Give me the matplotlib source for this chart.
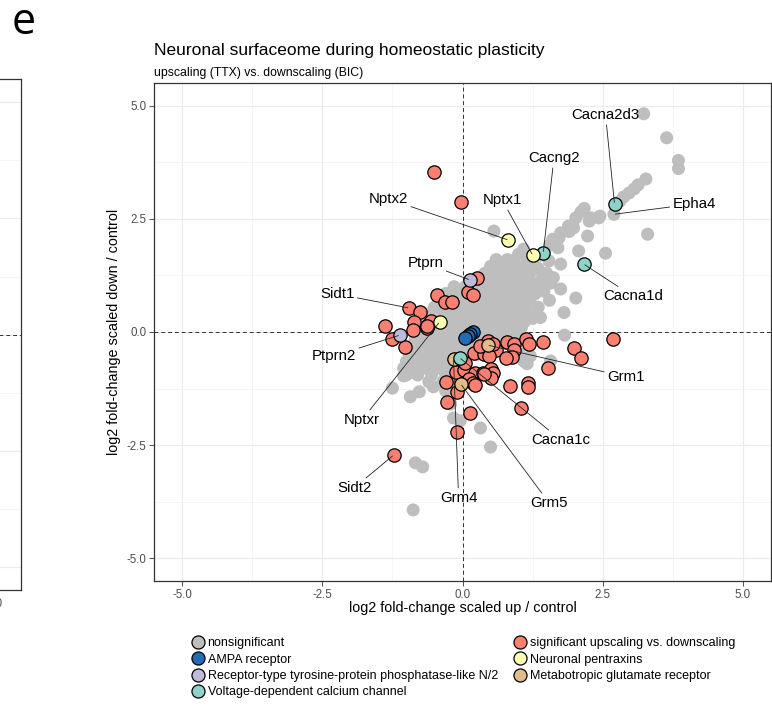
"""
Neuronal surfaceome scatter: upscaling (TTX) vs downscaling (BIC) fold-changes
"""
import matplotlib
matplotlib.use("Agg")
import matplotlib.pyplot as plt
from matplotlib.lines import Line2D
from matplotlib.ticker import MultipleLocator
import numpy as np

plt.rcParams["font.family"] = ["Liberation Sans", "DejaVu Sans"]

# nonsignificant proteins, (log2 up / control, log2 down / control)
gray_pts = [
    (3.23, 4.82), (3.64, 4.29), (3.85, 3.79), (3.85, 3.61), (3.27, 3.38), (3.13, 3.25),
    (3.06, 3.16), (2.97, 3.07), (2.87, 2.98), (2.80, 2.88), (2.70, 2.60), (2.45, 2.56),
    (2.43, 2.52), (2.29, 2.52), (2.17, 2.73), (2.11, 2.65), (2.02, 2.52), (2.26, 2.45),
    (3.30, 2.16), (2.55, 1.74), (1.89, 2.34), (1.98, 2.30), (1.75, 2.19), (1.90, 2.22),
    (2.23, 2.12), (1.61, 2.05), (1.72, 2.08), (1.70, 1.86), (1.55, 1.92), (2.07, 1.79),
    (1.09, 1.83), (1.00, 1.72), (0.91, 1.57), (1.54, 1.57), (1.75, 1.50), (0.68, 1.19),
    (0.56, 2.23), (1.57, 1.08), (1.75, 0.95), (2.02, 0.75), (1.27, 1.06), (1.81, 0.43),
    (1.39, 0.32), (1.82, -0.07), (1.57, -0.64), (1.21, -0.53), (1.09, -0.64), (1.45, 1.75),
    (1.30, 1.62), (1.20, 1.50), (1.35, 1.40), (1.50, 1.30), (1.62, 1.20), (1.40, 1.15),
    (1.45, 0.90), (1.30, 0.85), (1.55, 0.70), (1.35, 0.55), (1.25, 0.30),
    (0.6, 1.6), (0.8, 1.6), (1.15, 1.62),
    (0.5, 1.45), (0.7, 1.45), (0.9, 1.42), (1.1, 1.45),
    (0.4, 1.3), (0.6, 1.3), (0.8, 1.3), (1.0, 1.3), (1.2, 1.3),
    (0.3, 1.15), (0.5, 1.15), (0.7, 1.15), (0.9, 1.15), (1.1, 1.15),
    (-0.15, 1.0), (0.05, 1.0), (0.25, 1.0), (0.45, 1.0), (0.65, 1.0), (0.85, 1.0),
    (1.05, 1.0), (1.25, 0.98),
    (-0.3, 0.85), (-0.1, 0.85), (0.1, 0.85), (0.3, 0.85), (0.5, 0.85), (0.7, 0.85),
    (0.9, 0.85), (1.1, 0.85),
    (-0.4, 0.7), (-0.2, 0.7), (0.0, 0.7), (0.2, 0.7), (0.4, 0.7), (0.6, 0.7),
    (0.8, 0.7), (1.0, 0.7), (1.2, 0.7),
    (-0.5, 0.55), (-0.3, 0.55), (-0.1, 0.55), (0.1, 0.55), (0.3, 0.55), (0.5, 0.55),
    (0.7, 0.55), (0.9, 0.55), (1.1, 0.55),
    (-0.6, 0.4), (-0.4, 0.4), (-0.2, 0.4), (0.0, 0.4), (0.2, 0.4), (0.4, 0.4),
    (0.6, 0.4), (0.8, 0.4), (1.0, 0.4), (1.2, 0.42),
    (-0.7, 0.25), (-0.5, 0.25), (-0.3, 0.25), (-0.1, 0.25), (0.1, 0.25), (0.3, 0.25),
    (0.5, 0.25), (0.7, 0.25), (0.9, 0.25), (1.1, 0.22),
    (-0.75, 0.1), (-0.55, 0.1), (-0.35, 0.1), (-0.15, 0.1), (0.05, 0.1), (0.25, 0.1),
    (0.45, 0.1), (0.65, 0.1), (0.85, 0.1), (1.05, 0.1),
    (-0.8, -0.05), (-0.6, -0.05), (-0.4, -0.05), (-0.2, -0.05), (0.0, -0.05),
    (0.2, -0.05), (0.4, -0.05), (0.6, -0.05), (0.8, -0.05), (1.0, -0.05),
    (-0.85, -0.2), (-0.65, -0.2), (-0.45, -0.2), (-0.25, -0.2), (-0.05, -0.2),
    (0.15, -0.2), (0.35, -0.2), (0.55, -0.2), (0.75, -0.2),
    (-0.9, -0.35), (-0.7, -0.35), (-0.5, -0.35), (-0.3, -0.35), (-0.1, -0.35),
    (0.1, -0.35), (0.3, -0.35), (0.5, -0.35),
    (-0.95, -0.5), (-0.75, -0.5), (-0.55, -0.5), (-0.35, -0.5), (-0.15, -0.5),
    (0.05, -0.5), (0.25, -0.5),
    (-1.0, -0.65), (-0.8, -0.65), (-0.6, -0.65), (-0.4, -0.65), (-0.2, -0.65), (0.0, -0.65),
    (-1.05, -0.8), (-0.85, -0.8), (-0.65, -0.8), (-0.45, -0.8), (-0.25, -0.8), (-0.05, -0.8),
    (-1.0, -0.95), (-0.8, -0.95), (-0.55, -0.95), (-0.3, -0.95), (-0.1, -0.95), (0.1, -0.95),
    (-0.6, -1.1), (-0.35, -1.1), (-0.15, -1.1), (0.05, -1.1),
    (-0.3, -1.3), (-0.1, -1.3),
    (-1.25, -1.24), (-1.05, -0.97), (-0.93, -1.43), (-0.77, -1.32), (-0.52, -1.21),
    (-0.84, -2.89), (-0.71, -2.98), (-0.88, -3.93), (-0.21, -1.59), (-0.16, -1.90),
    (-0.04, -1.96), (0.32, -2.12), (0.50, -2.54), (1.00, -0.45), (1.15, -0.70),
]

# significant upscaling vs. downscaling
sig_pts = [
    (-0.50, 3.53), (-0.02, 2.87), (0.25, 1.19), (0.09, 0.88), (0.18, 0.82), (-0.45, 0.82),
    (-0.32, 0.66), (-0.18, 0.66), (-0.95, 0.53), (-0.75, 0.44), (-0.86, 0.22), (-0.61, 0.15),
    (-0.57, 0.24), (-0.64, 0.09), (-0.89, 0.04), (-1.39, 0.13), (-1.25, -0.15), (-1.02, -0.33),
    (0.46, -0.20), (0.36, -0.33), (0.50, -0.35), (0.59, -0.40), (0.20, -0.46), (0.38, -0.49),
    (0.48, -0.53), (0.80, -0.22), (0.91, -0.26), (0.91, -0.40), (0.89, -0.55), (0.77, -0.57),
    (1.13, -0.15), (1.18, -0.26), (1.43, -0.22), (2.68, -0.15), (1.98, -0.35), (2.11, -0.57),
    (1.52, -0.79), (1.16, -1.13), (1.16, -1.21), (0.84, -1.19), (1.04, -1.68), (0.13, -1.79),
    (-0.09, -2.21), (-0.27, -1.55), (-0.29, -1.10), (-0.11, -0.88), (0.02, -0.84), (0.05, -0.68),
    (0.23, -0.91), (0.36, -0.91), (0.50, -0.82), (0.55, -0.91), (0.50, -1.02), (0.11, -1.04),
    (0.18, -1.13), (0.23, -1.17), (-0.09, -1.32), (-1.23, -2.72), (0.32, -0.31), (0.54, -0.26),
    (0.38, -0.93), (-0.64, 0.13),
]

# highlighted protein groups
ampa_pts = [(0.18, 0.00), (0.13, -0.04), (0.09, -0.09), (0.05, -0.13)]
ptprn_pts = [(0.13, 1.15), (-1.12, -0.07)]
vdcc_pts = [(2.71, 2.83), (1.44, 1.75), (2.16, 1.50), (-0.05, -0.57)]
nptx_pts = [(1.25, 1.70), (0.82, 2.03), (-0.41, 0.22)]
mglur_pts = [(0.45, -0.29), (-0.16, -0.60), (-0.03, -1.15)]

# labelled genes and the point each one marks
gene_names = ["Cacna2d3", "Epha4", "Cacng2", "Nptx1", "Nptx2", "Cacna1d", "Ptprn",
              "Sidt1", "Ptprn2", "Nptxr", "Sidt2", "Grm4", "Grm5", "Cacna1c", "Grm1"]
gene_x = [2.71, 2.70, 1.44, 1.25, 0.82, 2.16, 0.13, -0.95, -1.12, -0.41, -1.23, -0.16,
          -0.03, -0.05, 0.45]
gene_y = [2.83, 2.60, 1.75, 1.70, 2.03, 1.50, 1.15, 0.53, -0.07, 0.22, -2.72, -0.60,
          -1.15, -0.57, -0.29]

# where the repelled labels sit
label_x = [2.55, 4.13, 1.63, 0.71, -1.32, 3.04, -0.66, -2.23, -2.29, -1.79, -1.93, -0.07,
           1.54, 1.75, 2.91]
label_y = [4.79, 2.83, 3.84, 2.91, 2.94, 0.79, 1.52, 0.84, -0.53, -1.94, -3.44, -3.66,
           -3.77, -2.38, -0.99]

groups = [
    ("nonsignificant", "#BEBEBE"),
    ("AMPA receptor", "#1F6DB5"),
    ("Receptor-type tyrosine-protein phosphatase-like N/2", "#BEBADA"),
    ("Voltage-dependent calcium channel", "#8DD3C7"),
    ("significant upscaling vs. downscaling", "#FB8072"),
    ("Neuronal pentraxins", "#FFFFB3"),
    ("Metabotropic glutamate receptor", "#E0BC8A"),
]

TICK_GREY = "#4D4D4D"
FRAME = "#333333"


def style_panel(ax):
    """ggplot-ish bw theme for a panel"""
    ax.set_xlim(-5.5, 5.5)
    ax.set_ylim(-5.5, 5.5)
    for loc in (ax.xaxis, ax.yaxis):
        loc.set_major_locator(MultipleLocator(2.5))
        loc.set_minor_locator(MultipleLocator(1.25))
    ax.grid(which="major", color="#EBEBEB", lw=0.8, zorder=0)
    ax.grid(which="minor", color="#F2F2F2", lw=0.5, zorder=0)
    ax.set_axisbelow(True)
    for s in ax.spines.values():
        s.set_color(FRAME)
        s.set_linewidth(0.9)
    ax.tick_params(which="major", length=3.5, width=0.6, color=FRAME,
                   labelsize=8.3, labelcolor=TICK_GREY, pad=2)
    ax.tick_params(which="minor", length=0)
    fmt = lambda v, p: "%.1f" % v
    ax.xaxis.set_major_formatter(fmt)
    ax.yaxis.set_major_formatter(fmt)


def draw_points(ax, pts, color, edge=True, z=3):
    x, y = np.array(pts).T
    if edge:
        ax.scatter(x, y, s=92, c=color, edgecolors="black", linewidths=0.9, zorder=z)
    else:
        ax.scatter(x, y, s=88, c=color, edgecolors="none", zorder=z)


def main():
    fig = plt.figure(figsize=(7.72, 7.05), dpi=100)

    # neighbouring panel, mostly off the left edge
    left = fig.add_axes([-0.714, 0.163, 0.741, 0.7248])
    style_panel(left)
    left.set_xticks([5.0])
    left.xaxis.set_minor_locator(MultipleLocator(1.25))
    left.set_yticklabels([])
    left.tick_params(axis="y", length=0)
    left.axhline(0, color=FRAME, lw=0.7, ls=(0, (4, 3)), zorder=1)

    ax = fig.add_axes([154 / 772, 1 - 581 / 705, 617 / 772, 498 / 705])
    style_panel(ax)
    ax.axhline(0, color=FRAME, lw=0.7, ls=(0, (4, 3)), zorder=1)
    ax.axvline(0, color=FRAME, lw=0.7, ls=(0, (4, 3)), zorder=1)

    colors = dict(groups)
    draw_points(ax, gray_pts, colors["nonsignificant"], edge=False, z=2)
    draw_points(ax, sig_pts, colors["significant upscaling vs. downscaling"], z=3)
    draw_points(ax, ptprn_pts, colors["Receptor-type tyrosine-protein phosphatase-like N/2"], z=4)
    draw_points(ax, mglur_pts, colors["Metabotropic glutamate receptor"], z=4)
    draw_points(ax, vdcc_pts, colors["Voltage-dependent calcium channel"], z=4)
    draw_points(ax, nptx_pts, colors["Neuronal pentraxins"], z=4)
    draw_points(ax, ampa_pts, colors["AMPA receptor"], z=4)

    for name, gx, gy, tx, ty in zip(gene_names, gene_x, gene_y, label_x, label_y):
        ax.annotate(name, xy=(gx, gy), xytext=(tx, ty), ha="center", va="center",
                    fontsize=10.8, zorder=6,
                    arrowprops=dict(arrowstyle="-", color="#222222", lw=0.6,
                                    shrinkA=0, shrinkB=1))

    ax.set_xlabel("log2 fold-change scaled up / control", fontsize=10.4)
    ax.set_ylabel("log2 fold-change scaled down / control", fontsize=10.4)
    ax.xaxis.set_label_coords(0.5, -0.040)
    ax.yaxis.set_label_coords(-0.053, 0.5)

    fig.text(154 / 772, 1 - 55 / 705, "Neuronal surfaceome during homeostatic plasticity",
             fontsize=12.5, va="baseline", ha="left")
    fig.text(154 / 772, 1 - 76 / 705, "upscaling (TTX) vs. downscaling (BIC)",
             fontsize=8.8, va="baseline", ha="left")
    fig.text(12 / 772, 1 - 34 / 705, "e", fontsize=31, va="baseline", ha="left",
             family=["Open Sans", "DejaVu Sans"])

    # legend in two columns
    handles = [Line2D([], [], ls="none", marker="o", ms=9.4, mfc=c, mec="black", mew=0.9)
               for _, c in groups]
    names = [g for g, _ in groups]
    opts = dict(frameon=False, fontsize=9.0, handlelength=0.95, handletextpad=0.3,
                borderpad=0, borderaxespad=0, labelspacing=0.36, loc="upper left")
    fig.legend(handles[:4], names[:4], bbox_to_anchor=(192 / 772, 1 - 637 / 705), **opts)
    fig.legend(handles[4:], names[4:], bbox_to_anchor=(514 / 772, 1 - 637 / 705), **opts)

    fig.savefig("out.png", dpi=100)


if __name__ == "__main__":
    main()
